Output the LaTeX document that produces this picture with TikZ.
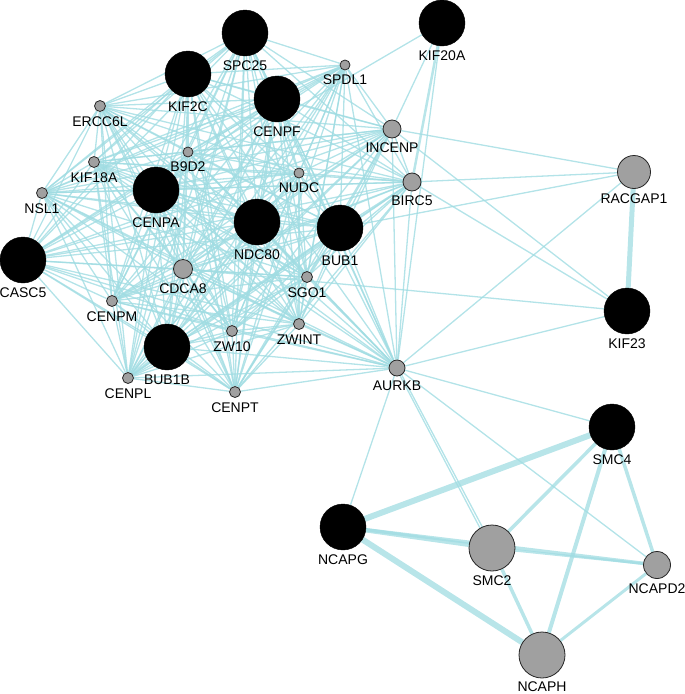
\documentclass[tikz,border=0pt]{standalone}
\usepackage{fontspec}
\setmainfont{Liberation Sans}
\usetikzlibrary{backgrounds}
\definecolor{edgec}{RGB}{160,220,226}
\definecolor{nodegray}{RGB}{160,160,160}
\begin{document}
\begin{tikzpicture}[x=1pt,y=-1pt,
  lab/.style={font=\fontsize{14}{16}\selectfont, inner sep=0pt, label distance=4.5pt},
  bnode/.style={circle, fill=black, draw=black, minimum size=46pt, inner sep=0pt},
  gbig/.style={circle, fill=nodegray, draw=black!85, line width=0.8pt, minimum size=46pt, inner sep=0pt},
  gmid/.style={circle, fill=nodegray, draw=black!85, line width=0.8pt, minimum size=#1, inner sep=0pt},
  gsmall/.style={circle, fill=nodegray, draw=black!85, line width=0.8pt, minimum size=11pt, inner sep=0pt},
  edge/.style={draw=edgec, line width=1.3pt, opacity=0.8},
  wedge/.style={draw=edgec, line width=#1, opacity=0.75}]
\useasboundingbox (0,0) rectangle (685,694);
% nodes
\node[bnode, label={[lab]below:SPC25}] (SPC25) at (245,33) {};
\node[bnode, label={[lab]below:KIF2C}] (KIF2C) at (188,74) {};
\node[bnode, label={[lab]below:CENPF}] (CENPF) at (277,99) {};
\node[gsmall, minimum size=10pt, label={[lab]below:SPDL1}] (SPDL1) at (345,65) {};
\node[bnode, label={[lab]below:KIF20A}] (KIF20A) at (442,23) {};
\node[gsmall, label={[lab]below:ERCC6L}] (ERCC6L) at (100,106) {};
\node[gmid=18pt, label={[lab]below:INCENP}] (INCENP) at (392,129) {};
\node[gsmall, minimum size=10pt, label={[lab]below:B9D2}] (B9D2) at (188,152) {};
\node[gsmall, label={[lab]below:KIF18A}] (KIF18A) at (94,162) {};
\node[gsmall, minimum size=10pt, label={[lab]below:NUDC}] (NUDC) at (299,173) {};
\node[gmid=18pt, label={[lab]below:BIRC5}] (BIRC5) at (412,182) {};
\node[gsmall, label={[lab]below:NSL1}] (NSL1) at (42,193) {};
\node[bnode, label={[lab]below:CENPA}] (CENPA) at (156,190) {};
\node[gmid=33pt, label={[lab]below:RACGAP1}] (RACGAP1) at (634,172) {};
\node[bnode, label={[lab]below:NDC80}] (NDC80) at (257,222) {};
\node[bnode, label={[lab]below:BUB1}] (BUB1) at (340,228) {};
\node[bnode, label={[lab]below:CASC5}] (CASC5) at (23,260) {};
\node[gmid=19pt, label={[lab]below:CDCA8}] (CDCA8) at (183,269) {};
\node[gsmall, label={[lab]below:SGO1}] (SGO1) at (307,277) {};
\node[gsmall, label={[lab]below:CENPM}] (CENPM) at (112,301) {};
\node[bnode, label={[lab]below:KIF23}] (KIF23) at (627,311) {};
\node[gsmall, label={[lab]below:ZWINT}] (ZWINT) at (299,324) {};
\node[gsmall, label={[lab]below:ZW10}] (ZW10) at (232,331) {};
\node[bnode, label={[lab]below:BUB1B}] (BUB1B) at (167,347) {};
\node[gsmall, label={[lab]below:CENPL}] (CENPL) at (128,378) {};
\node[gsmall, label={[lab]below:CENPT}] (CENPT) at (235,392) {};
\node[gmid=16pt, label={[lab]below:AURKB}] (AURKB) at (397,368) {};
\node[bnode, label={[lab]below:SMC4}] (SMC4) at (612,427) {};
\node[bnode, label={[lab]below:NCAPG}] (NCAPG) at (343,527) {};
\node[gbig, label={[lab]below:SMC2}] (SMC2) at (492,548) {};
\node[gmid=27pt, label={[lab]below:NCAPD2}] (NCAPD2) at (657,565) {};
\node[gbig, label={[lab, label distance=3pt]below:NCAPH}] (NCAPH) at (542,655) {};
% edges
\begin{pgfonlayer}{background}
\def\clusterlist{SPC25,KIF2C,CENPF,SPDL1,ERCC6L,INCENP,B9D2,KIF18A,NUDC,BIRC5,NSL1,CENPA,NDC80,BUB1,CASC5,CDCA8,SGO1,CENPM,ZWINT,ZW10,BUB1B,CENPL,CENPT,AURKB}
\foreach \a [count=\i] in \clusterlist {
  \foreach \b [count=\j] in \clusterlist {
    \ifnum\j>\i \draw[edge] (\a) -- (\b); \fi
  }
}
\draw[edge] (KIF20A) -- (CENPA);
\draw[edge] (KIF20A) -- (INCENP);
\draw[wedge=2.5pt] (KIF20A) -- (BIRC5);
\draw[edge] (KIF20A) -- (AURKB);
\draw[edge] (RACGAP1) -- (INCENP);
\draw[edge] (RACGAP1) -- (BIRC5);
\draw[edge] (RACGAP1) -- (BUB1);
\draw[edge] (RACGAP1) -- (AURKB);
\draw[wedge=5pt] (RACGAP1) -- (KIF23);
\draw[edge] (KIF23) -- (INCENP);
\draw[edge] (KIF23) -- (BIRC5);
\draw[edge] (KIF23) -- (CDCA8);
\draw[edge] (KIF23) -- (AURKB);
\draw[edge] (AURKB) -- (SMC4);
\draw[edge] (AURKB) -- (NCAPG);
\draw[edge] ([xshift=-1pt]AURKB.center) -- ([xshift=-1.5pt]SMC2.center);
\draw[edge] ([xshift=1pt]AURKB.center) -- ([xshift=1.5pt]SMC2.center);
\draw[edge] (AURKB) -- (NCAPD2);
\draw[wedge=6pt] (NCAPG) -- (SMC4);
\draw[wedge=4.5pt] (NCAPG) -- (SMC2);
\draw[wedge=3.5pt] (NCAPG) -- (NCAPD2);
\draw[wedge=6pt] (NCAPG) -- (NCAPH);
\draw[wedge=3.5pt] (SMC2) -- (SMC4);
\draw[wedge=3.5pt] (SMC2) -- (NCAPH);
\draw[wedge=2.5pt] (SMC2) -- (NCAPD2);
\draw[wedge=4pt] (SMC4) -- (NCAPH);
\draw[wedge=3.5pt] (SMC4) -- (NCAPD2);
\draw[wedge=3pt] (NCAPD2) -- (NCAPH);
\end{pgfonlayer}
\end{tikzpicture}
\end{document}
